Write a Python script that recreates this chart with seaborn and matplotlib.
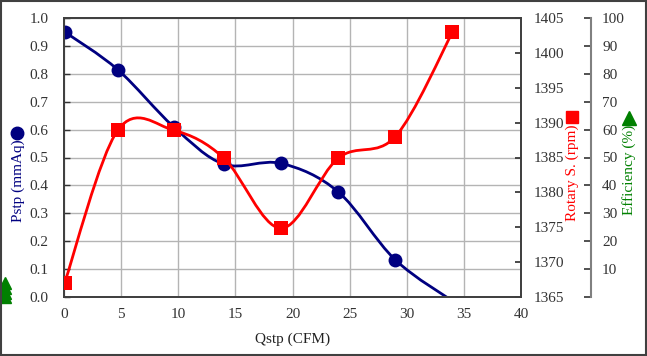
import matplotlib
matplotlib.use("Agg")
import matplotlib.pyplot as plt
import numpy as np
import pandas as pd
import seaborn as sns
from matplotlib.path import Path
from matplotlib.patches import PathPatch, Rectangle
from matplotlib.lines import Line2D
from matplotlib.ticker import FuncFormatter

# Data
q_pstp = [0.1, 4.7, 9.6, 14.0, 19.0, 24.0, 29.0, 34.4]
pstp = [0.949, 0.815, 0.61, 0.476, 0.479, 0.377, 0.133, -0.025]

q_rpm = [0.05, 4.7, 9.6, 14.0, 19.0, 24.0, 29.0, 34.0]
rpm = [1367.0, 1388.9, 1388.9, 1384.9, 1374.85, 1384.9, 1388.0, 1402.95]

# efficiency markers sit outside the plot area at the far left in the reference
q_eff = [-5.2, -5.2, -5.2, -5.2]
eff = [5.0, 3.3, 1.6, 0.0]

x_ticks = list(range(0, 41, 5))
pstp_ticks = [round(v * 0.1, 1) for v in range(0, 11)]
rpm_ticks = list(range(1365, 1406, 5))
eff_ticks = list(range(0, 101, 10))

NAVY = "#000080"
RED = "#FF0000"
GREEN = "#008000"
GRID = "#b4b4b4"
DARK = "#404040"
W, H = 647, 356

sns.set_theme(style="white")
plt.rcParams["font.family"] = ["Liberation Serif", "DejaVu Sans"]
plt.rcParams["font.size"] = 11


def smooth_path(xs, ys):
    # Excel-style smoothed line: cubic bezier through each point (Catmull-Rom handles)
    pts = np.column_stack([xs, ys]).astype(float)
    ext = np.vstack([pts[0], pts, pts[-1]])
    verts = [tuple(pts[0])]
    codes = [Path.MOVETO]
    for i in range(len(pts) - 1):
        p0, p1, p2, p3 = ext[i], ext[i + 1], ext[i + 2], ext[i + 3]
        c1 = p1 + (p2 - p0) / 6.0
        c2 = p2 - (p3 - p1) / 6.0
        verts += [tuple(c1), tuple(c2), tuple(p2)]
        codes += [Path.CURVE4] * 3
    return Path(verts, codes)


fig = plt.figure(figsize=(W / 100, H / 100), dpi=100)
fig.patch.set_facecolor("white")
fig.patches.append(Rectangle((0.002, 0.003), 0.996, 0.994, transform=fig.transFigure,
                             fill=False, edgecolor=DARK, linewidth=1.5))

ax = fig.add_axes([64 / W, 59 / H, 457 / W, 279 / H])
ax.set_xlim(0, 40)
ax.set_ylim(0, 1.0)
ax.set_xticks(x_ticks)
ax.set_yticks(pstp_ticks)
ax.yaxis.set_major_formatter(FuncFormatter(lambda v, p: f"{v:.1f}"))
ax.grid(True, color=GRID, linewidth=1.0)
ax.set_axisbelow(True)
for s in ax.spines.values():
    s.set_color(DARK)
    s.set_linewidth(1.3)
ax.tick_params(axis="both", colors="#333333", labelsize=11, direction="in", length=4,
               width=1)
ax.tick_params(axis="y", pad=11)
ax.tick_params(axis="x", length=0, pad=8)

# Pstp series (left axis)
ax.add_patch(PathPatch(smooth_path(q_pstp, pstp), fill=False, edgecolor=NAVY,
                       linewidth=2.0))
df_p = pd.DataFrame({"q": q_pstp, "pstp": pstp})
sns.scatterplot(data=df_p, x="q", y="pstp", ax=ax, color=NAVY, marker="o", s=100,
                edgecolor=NAVY, linewidth=0, zorder=3, legend=False)
ax.set_xlim(0, 40)
ax.set_ylim(0, 1.0)
ax.set_xlabel("Qstp (CFM)", color="#222222", fontsize=11, labelpad=8)
ax.set_ylabel("")

# Rotary speed (right axis)
ax2 = ax.twinx()
ax2.set_ylim(1365, 1405)
ax2.set_yticks(rpm_ticks)
ax2.add_patch(PathPatch(smooth_path(q_rpm, rpm), fill=False, edgecolor=RED,
                        linewidth=2.0))
df_r = pd.DataFrame({"q": q_rpm, "rpm": rpm})
sns.scatterplot(data=df_r, x="q", y="rpm", ax=ax2, color=RED, marker="s", s=95,
                edgecolor=RED, linewidth=0, zorder=3, legend=False)
ax2.set_ylim(1365, 1405)
ax2.set_ylabel("")
ax2.tick_params(axis="y", colors="#333333", labelsize=11, direction="in", length=4,
                pad=9)
for s in ax2.spines.values():
    s.set_color(DARK)
    s.set_linewidth(1.3)

# Efficiency (third axis)
ax3 = ax.twinx()
ax3.spines["right"].set_position(("axes", (591 - 64) / 457))
for k in ["top", "left", "bottom"]:
    ax3.spines[k].set_visible(False)
ax3.spines["right"].set_color("#808080")
ax3.spines["right"].set_linewidth(1.5)
ax3.set_ylim(0, 100)
ax3.set_yticks(eff_ticks)
ax3.yaxis.set_major_formatter(FuncFormatter(lambda v, p: "" if v == 0 else f"{v:.0f}"))
ax3.tick_params(axis="y", colors="#333333", labelsize=11, direction="in", length=5,
                width=1.2, pad=8)
ax3.plot(q_eff, eff, linestyle="none", marker="^", markersize=8, color=GREEN,
         clip_on=False)
ax3.set_xlim(0, 40)

# axis titles with their unrotated symbols
fig.text(18 / W, 1 - 181 / H, "Pstp (mmAq)", rotation=90, color=NAVY, fontsize=11,
         ha="center", va="center")
fig.text(572 / W, 1 - 173 / H, "Rotary S. (rpm)", rotation=90, color=RED, fontsize=11,
         ha="center", va="center")
fig.text(629 / W, 1 - 170 / H, "Efficiency (%)", rotation=90, color=GREEN, fontsize=11,
         ha="center", va="center")
fig.add_artist(Line2D([17 / W], [1 - 133 / H], marker="o", markersize=9, color=NAVY,
                      transform=fig.transFigure))
fig.add_artist(Line2D([572 / W], [1 - 117 / H], marker="s", markersize=9, color=RED,
                      transform=fig.transFigure))
fig.add_artist(Line2D([629 / W], [1 - 118 / H], marker="^", markersize=10, color=GREEN,
                      transform=fig.transFigure))

fig.savefig("out.png", dpi=100)
